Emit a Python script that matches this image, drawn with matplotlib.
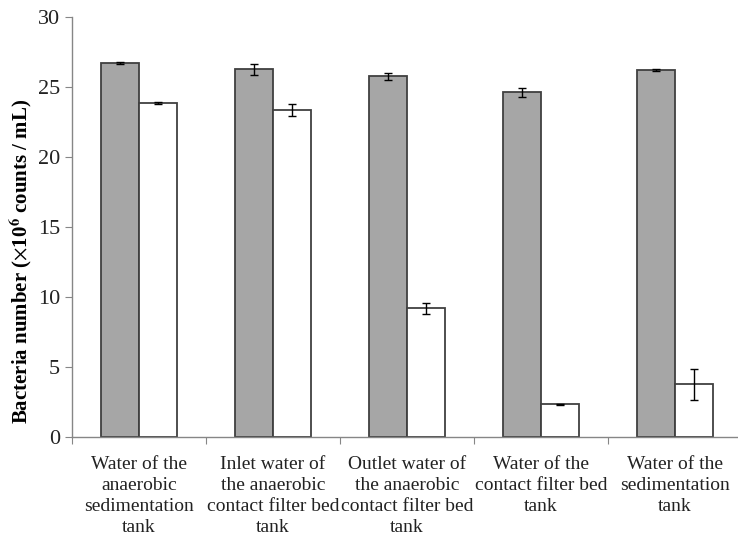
import numpy as np
import matplotlib
matplotlib.use("Agg")
import matplotlib.pyplot as plt

plt.rcParams["font.family"] = ["Liberation Serif", "DejaVu Serif"]
plt.rcParams["mathtext.fontset"] = "stix"

categories = [
    "Water of the\nanaerobic\nsedimentation\ntank",
    "Inlet water of\nthe anaerobic\ncontact filter bed\ntank",
    "Outlet water of\nthe anaerobic\ncontact filter bed\ntank",
    "Water of the\ncontact filter bed\ntank",
    "Water of the\nsedimentation\ntank",
]
gray_values = [26.7, 26.25, 25.75, 24.62, 26.2]
gray_errors = [0.07, 0.4, 0.22, 0.3, 0.05]
white_values = [23.85, 23.35, 9.2, 2.35, 3.75]
white_errors = [0.05, 0.42, 0.4, 0.04, 1.1]

fig = plt.figure(figsize=(7.38, 5.36), dpi=100)
ax = fig.add_axes([0.0976, 0.1847, 0.908, 0.7836])

x = np.arange(len(categories)) + 0.5
w = 0.284
err_kw = dict(ecolor="black", elinewidth=1.0, capsize=3, capthick=1.0)
ax.bar(x - w / 2, gray_values, w, color="#a6a6a6", edgecolor="#404040",
       linewidth=1.3, yerr=gray_errors, error_kw=err_kw, zorder=2)
ax.bar(x + w / 2, white_values, w, color="white", edgecolor="#404040",
       linewidth=1.3, yerr=white_errors, error_kw=err_kw, zorder=2)

ax.set_xlim(0, len(categories))
ax.set_ylim(0, 30)
ax.set_yticks(range(0, 31, 5))
ax.set_xticks(range(len(categories) + 1))
ax.set_xticklabels([])
ax.set_xticks(x, minor=True)
ax.set_xticklabels(categories, minor=True, fontsize=14, linespacing=1.3,
                   color="#222222")
ax.tick_params(axis="x", which="minor", length=0, pad=14)
ax.tick_params(axis="x", which="major", length=5, color="#868686")
ax.tick_params(axis="y", length=5, color="#868686", labelsize=16, pad=3.5,
               labelcolor="#222222")

for side in ["top", "right"]:
    ax.spines[side].set_visible(False)
for side in ["left", "bottom"]:
    ax.spines[side].set_color("#868686")
    ax.spines[side].set_linewidth(1.0)

ax.set_ylabel(r"Bacteria number ($\times$10$^{\mathbf{6}}$ counts / mL)",
              fontsize=15, fontweight="bold")
ax.yaxis.set_label_coords(-0.055, 0.417)

fig.savefig("out.png", dpi=100)
